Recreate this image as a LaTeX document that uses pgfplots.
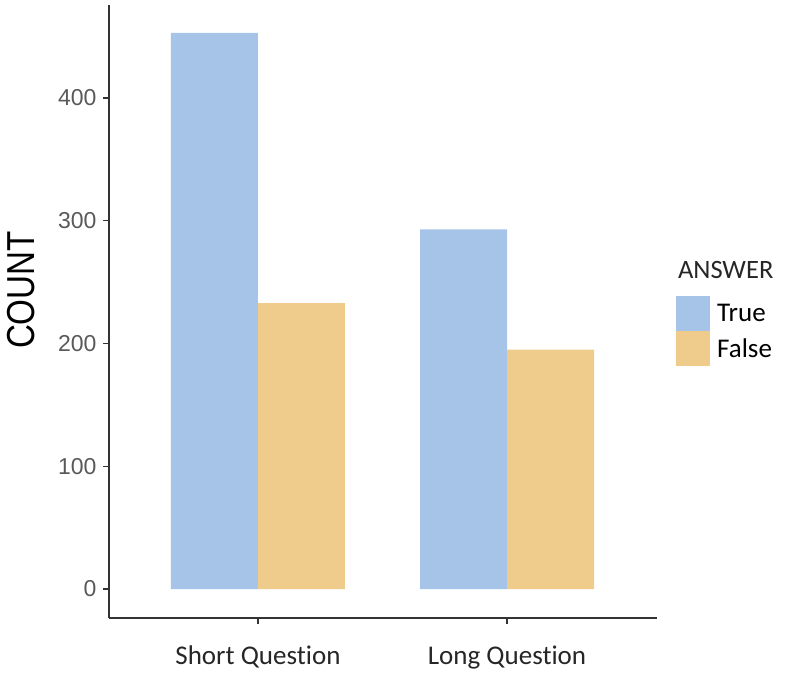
\documentclass[border=0pt]{standalone}
\usepackage{fontspec}
\setmainfont{Carlito}[Ligatures=NoCommon]
\newfontfamily\arialfont{Liberation Sans}
\newfontfamily\countfont{Liberation Sans}[FakeStretch=0.85]
\usepackage{pgfplots}
\pgfplotsset{compat=1.18}
\definecolor{trueblue}{HTML}{A6C3E8}
\definecolor{falseorange}{HTML}{F0CC8C}
\definecolor{tickgray}{HTML}{595959}
\definecolor{axisgray}{HTML}{333333}
\begin{document}
\begin{tikzpicture}
\path[use as bounding box] (-109bp,-59bp) rectangle (691bp,618bp);
\begin{axis}[
    at={(0,0)}, anchor=south west,
    scale only axis,
    width=548bp, height=613bp,
    ybar=0pt,
    bar width=87bp,
    xmin=-0.598, xmax=1.602,
    ymin=-23.6, ymax=475.8,
    axis x line*=bottom,
    axis y line*=left,
    axis line style={axisgray, line width=1.4bp, -},
    xtick={0,1},
    xticklabels={Short Question, Long Question},
    ytick={0,100,200,300,400},
    tick style={axisgray, line width=1.4bp},
    tick align=outside,
    major tick length=6bp,
    /pgf/number format/assume math mode=true,
    xticklabel style={font=\fontsize{27bp}{32bp}\selectfont, text=black!85, yshift=-18bp},
    yticklabel style={font=\arialfont\fontsize{23bp}{28bp}\selectfont, text=tickgray, xshift=-3bp},
    ylabel={\countfont COUNT},
    ylabel style={at={(axis description cs:-0.160,0.535)}, anchor=center, font=\fontsize{39bp}{44bp}\selectfont},
    legend style={at={(axis description cs:1.035,0.525)}, anchor=north west, draw=none,
        fill=none, row sep=0pt, inner sep=0pt, outer sep=0pt,
        font=\fontsize{27bp}{32bp}\selectfont,
        nodes={inner sep=0pt, outer sep=0pt}},
    legend cell align=left,
    /tikz/every odd column/.append style={column sep=7bp},
    legend image code/.code={\fill[#1] (0bp,-17.5bp) rectangle (34bp,17.5bp);},
    clip=false,
]
\addplot[draw=none, fill=trueblue] coordinates {(0,453) (1,293)};
\addplot[draw=none, fill=falseorange] coordinates {(0,233) (1,195)};
\legend{True, False}
\node[anchor=west, font=\fontsize{26.5bp}{30bp}\selectfont, text=black!85] at (axis description cs:1.032,0.567) {ANSWER};
\end{axis}
\end{tikzpicture}
\end{document}
